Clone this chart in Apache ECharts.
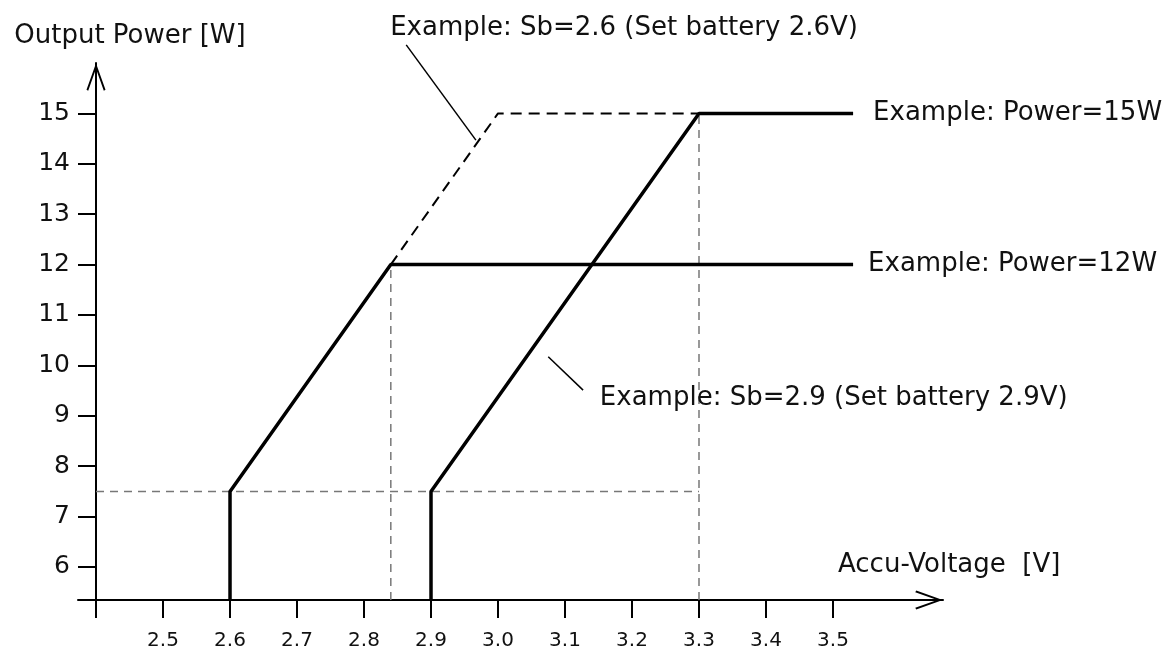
<!DOCTYPE html>
<html>
<head>
<meta charset="utf-8">
<script src="https://cdn.jsdelivr.net/npm/echarts@6/dist/echarts.min.js"></script>
<style>
html, body { margin: 0; padding: 0; background: #fff; }
#main { width: 1171px; height: 652px; }
</style>
</head>
<body>
<div id="main"></div>
<script>
// axis ranges (voltage V, power W)
var xMin = 2.3731, xMax = 3.6642;
var yMin = 5.345, yMax = 16;
var xTicks = [2.4, 2.5, 2.6, 2.7, 2.8, 2.9, 3.0, 3.1, 3.2, 3.3, 3.4, 3.5];
var xLabels = [2.5, 2.6, 2.7, 2.8, 2.9, 3.0, 3.1, 3.2, 3.3, 3.4, 3.5];
var yTicks = [6, 7, 8, 9, 10, 11, 12, 13, 14, 15];

// Sb=2.6, Power=12W
var sb26Volt = [2.6, 2.6, 2.84, 3.53];
var sb26Power = [yMin, 7.5, 12, 12];
// Sb=2.6 without the 12W limit (dashed)
var sb26FreeVolt = [2.84, 3.0, 3.3];
var sb26FreePower = [12, 15, 15];
// Sb=2.9, Power=15W
var sb29Volt = [2.9, 2.9, 3.3, 3.53];
var sb29Power = [yMin, 7.5, 15, 15];

// grey helper lines
var guides = [
    [[2.4, 7.5], [3.3, 7.5]],
    [[2.84, yMin], [2.84, 12]],
    [[3.3, yMin], [3.3, 15]]
];

// notes with leader lines
var noteText = ['Example: Sb=2.6 (Set battery 2.6V)', 'Example: Sb=2.9 (Set battery 2.9V)'];
var notePos = [[2.839, 16.69], [3.152, 9.35]];
var leaders = [
    [[2.863, 16.36], [2.967, 14.47]],
    [[3.075, 10.17], [3.127, 9.51]]
];

var FONT = 'DejaVu Sans';
var arrow = 'path://M9.5,0 L19,26.5 L17.3,27.5 L9.5,5.5 L1.7,27.5 L0,26.5 Z';

function zip(a, b) {
    return a.map(function (v, i) { return [v, b[i]]; });
}

var chart = echarts.init(document.getElementById('main'));

var series = [];

// dashed grey guides
guides.forEach(function (g) {
    series.push({
        type: 'line',
        data: g,
        symbol: 'none',
        silent: true,
        z: 1,
        lineStyle: { color: '#777', width: 1.5, type: [8, 6] }
    });
});

// thin leader lines for the notes
leaders.forEach(function (l) {
    series.push({
        type: 'line',
        data: l,
        symbol: 'none',
        silent: true,
        clip: false,
        z: 1,
        lineStyle: { color: '#000', width: 1.5 }
    });
});

series.push({
    name: 'Sb=2.6 free',
    type: 'line',
    data: zip(sb26FreeVolt, sb26FreePower),
    symbol: 'none',
    z: 2,
    lineStyle: { color: '#000', width: 2, type: [11, 7] }
});

series.push({
    name: 'Sb=2.6',
    type: 'line',
    data: zip(sb26Volt, sb26Power),
    symbol: 'none',
    z: 3,
    lineStyle: { color: '#000', width: 3.5 },
    endLabel: {
        show: true,
        distance: 15,
        formatter: 'Example: Power=12W',
        fontFamily: FONT, fontSize: 26, color: '#111'
    }
});

series.push({
    name: 'Sb=2.9',
    type: 'line',
    data: zip(sb29Volt, sb29Power),
    symbol: 'none',
    z: 3,
    lineStyle: { color: '#000', width: 3.5 },
    endLabel: {
        show: true,
        distance: 20,
        formatter: 'Example: Power=15W',
        fontFamily: FONT, fontSize: 26, color: '#111'
    }
});

// note texts
series.push({
    type: 'scatter',
    clip: false,
    symbolSize: 0,
    silent: true,
    itemStyle: { opacity: 1 },
    data: notePos.map(function (p, i) {
        return { value: p, name: noteText[i] };
    }),
    label: {
        show: true,
        position: 'right',
        distance: 0,
        formatter: '{b}',
        fontFamily: FONT, fontSize: 26, color: '#111', opacity: 1
    }
});

chart.setOption({
    animation: false,
    grid: { left: 78, right: 228, top: 63, bottom: 52 },
    xAxis: {
        type: 'value',
        min: xMin,
        max: xMax,
        name: 'Accu-Voltage  [V]',
        nameLocation: 'end',
        nameGap: -105,
        nameTextStyle: {
            fontFamily: FONT, fontSize: 26, color: '#111',
            align: 'left', verticalAlign: 'bottom', lineHeight: 30,
            padding: [0, 0, 20, 0]
        },
        splitLine: { show: false },
        axisLine: {
            onZero: false,
            lineStyle: { color: '#000', width: 2 },
            symbol: ['none', arrow],
            symbolSize: [19, 28],
            symbolOffset: [0, -14]
        },
        axisTick: {
            length: 18,
            lineStyle: { color: '#000', width: 2 },
            customValues: xTicks
        },
        axisLabel: {
            fontFamily: FONT, fontSize: 20, color: '#111', margin: 31,
            customValues: xLabels,
            formatter: function (v) { return v.toFixed(1); }
        }
    },
    yAxis: {
        type: 'value',
        min: yMin,
        max: yMax,
        offset: -18,
        name: 'Output Power [W]',
        nameLocation: 'end',
        nameGap: 14,
        nameTextStyle: {
            fontFamily: FONT, fontSize: 26, color: '#111',
            align: 'center', padding: [0, 0, 0, 68]
        },
        splitLine: { show: false },
        axisLine: {
            onZero: false,
            lineStyle: { color: '#000', width: 2 },
            symbol: ['none', arrow],
            symbolSize: [19, 28],
            symbolOffset: [0, -14]
        },
        axisTick: {
            length: 18,
            lineStyle: { color: '#000', width: 2 },
            customValues: yTicks
        },
        axisLabel: {
            fontFamily: FONT, fontSize: 25, color: '#111', margin: 26,
            customValues: yTicks
        }
    },
    series: series
});
</script>
</body>
</html>
